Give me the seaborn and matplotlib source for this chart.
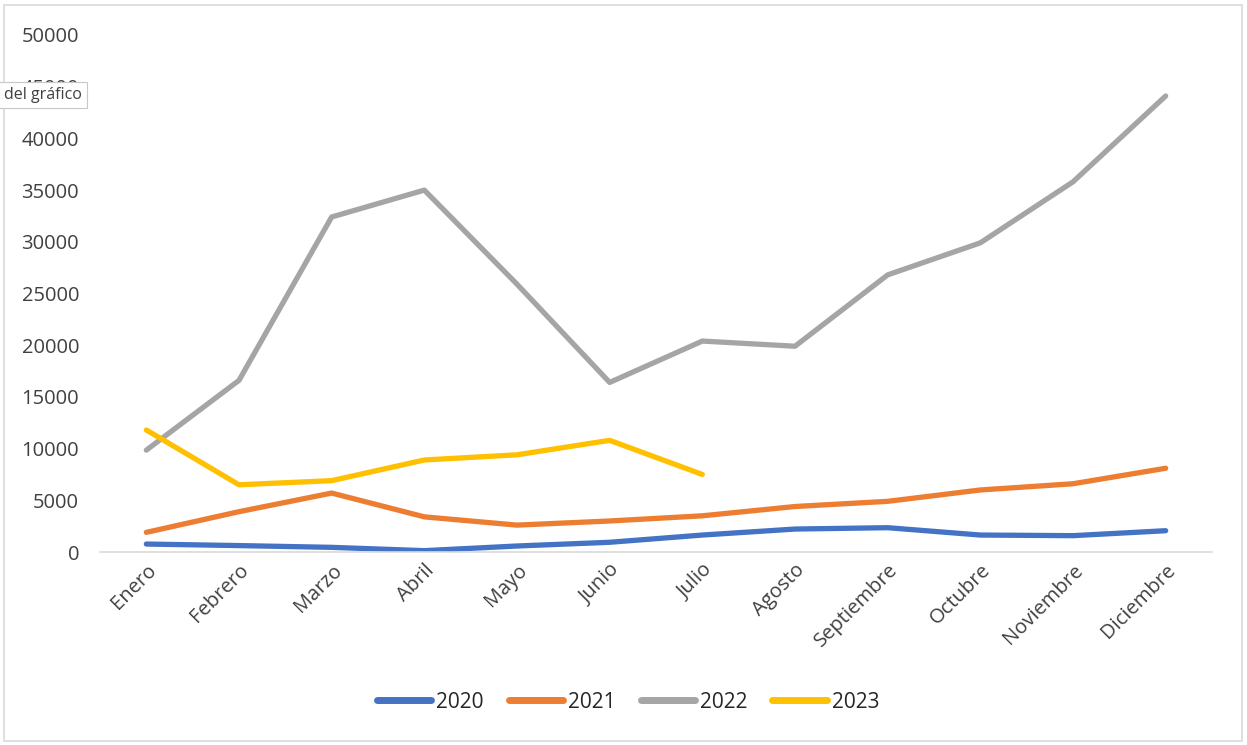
import matplotlib
matplotlib.use("Agg")
import matplotlib.pyplot as plt
import seaborn as sns
import pandas as pd
import numpy as np
from matplotlib.patches import Rectangle

months = ["Enero", "Febrero", "Marzo", "Abril", "Mayo", "Junio", "Julio",
          "Agosto", "Septiembre", "Octubre", "Noviembre", "Diciembre"]
y2020 = [770, 620, 450, 130, 580, 940, 1640, 2220, 2350, 1640, 1580, 2060]
y2021 = [1900, 3900, 5700, 3400, 2600, 3000, 3500, 4400, 4900, 6000, 6600, 8100]
y2022 = [9850, 16600, 32400, 35000, 25900, 16400, 20400, 19900, 26800, 29900, 35800, 44100]
y2023 = [11800, 6500, 6900, 8900, 9400, 10800, 7500]
years = ["2020", "2021", "2022", "2023"]
colors = ["#4472C4", "#ED7D31", "#A5A5A5", "#FFC000"]
yticks = [0, 5000, 10000, 15000, 20000, 25000, 30000, 35000, 40000, 45000, 50000]

rows = []
for yr, vals in zip(years, [y2020, y2021, y2022, y2023]):
    for m, v in zip(months, vals):
        rows.append({"Mes": m, "Valor": v, "Año": yr})
df = pd.DataFrame(rows)
df["Mes"] = pd.Categorical(df["Mes"], categories=months, ordered=True)
df["x"] = df["Mes"].cat.codes

sns.set_theme(style="white")
plt.rcParams["font.family"] = ["Open Sans", "DejaVu Sans"]

fig = plt.figure(figsize=(12.47, 7.45), dpi=100)
ax = fig.add_axes([100/1247, 1-552/745, 1112/1247, 517/745])

sns.lineplot(data=df, x="x", y="Valor", hue="Año", palette=dict(zip(years, colors)),
             linewidth=3.8, sort=False, ax=ax, estimator=None,
             solid_capstyle="round", solid_joinstyle="round")

ax.set_xlim(-0.5, 11.5)
ax.set_ylim(0, 50000)
ax.set_xticks(range(len(months)))
ax.set_xticklabels(months, rotation=45, ha="right", rotation_mode="anchor", fontsize=14.5, color="#404040")
ax.set_yticks(yticks)
ax.set_yticklabels([str(t) for t in yticks], fontsize=14.5, color="#404040")
ax.tick_params(axis="both", length=0)
ax.tick_params(axis="y", pad=15)
ax.tick_params(axis="x", pad=6)
ax.set_xlabel("")
ax.set_ylabel("")
for s in ["top", "right", "left"]:
    ax.spines[s].set_visible(False)
ax.spines["bottom"].set_color("#D9D9D9")
ax.spines["bottom"].set_linewidth(1.2)
ax.grid(False)

handles, labels = ax.get_legend_handles_labels()
for h in handles:
    h.set_linewidth(5)
    h.set_solid_capstyle("round")
ax.legend(handles, labels, loc="center", bbox_to_anchor=(628/1247, 1-702/745),
          bbox_transform=fig.transFigure, ncol=4, frameon=False, fontsize=15,
          handlelength=2.6, handletextpad=0.25, columnspacing=1.2, labelcolor="#262626")

fig.patches.append(Rectangle((4/1247, 4/745), 1238/1247, 736/745, transform=fig.transFigure,
                             fill=False, edgecolor="#D9D9D9", linewidth=1.2))

fig.text(4/1247, 1-95/745, "del gráfico", fontsize=11.5, color="#404040", va="center", ha="left",
         bbox=dict(boxstyle="square,pad=0.3", facecolor="white", edgecolor="#C8C8C8", linewidth=0.8),
         zorder=10)

fig.savefig("out.png", dpi=100)
